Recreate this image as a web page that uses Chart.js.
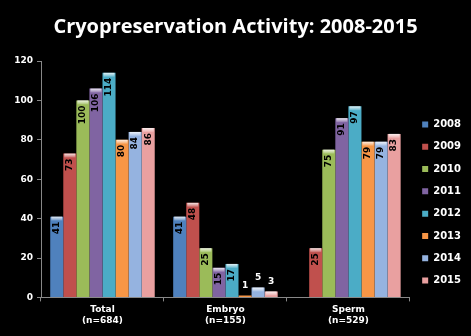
<!DOCTYPE html>
<html>
<head>
<meta charset="utf-8">
<script src="https://cdn.jsdelivr.net/npm/chart.js@4/dist/chart.umd.min.js"></script>
<style>
  html, body { margin: 0; padding: 0; background: #000; }
  #wrap { width: 471px; height: 336px; }
</style>
</head>
<body>
<div id="wrap"><canvas id="cryoChart"></canvas></div>
<script>
// Données
const categories = [["Total", "(n=684)"], ["Embryo", "(n=155)"], ["Sperm", "(n=529)"]];
const years = ["2008", "2009", "2010", "2011", "2012", "2013", "2014", "2015"];
const v2008 = [41, 41, null];
const v2009 = [73, 48, 25];
const v2010 = [100, 25, 75];
const v2011 = [106, 15, 91];
const v2012 = [114, 17, 97];
const v2013 = [80, 1, 79];
const v2014 = [84, 5, 79];
const v2015 = [86, 3, 83];
const yTicks = [0, 20, 40, 60, 80, 100, 120];

const series = [v2008, v2009, v2010, v2011, v2012, v2013, v2014, v2015];
const colors = ["#4f81bd", "#c0504d", "#9bbb59", "#8064a2", "#4bacc6", "#f79646", "#95b3e0", "#e9a0a0"];
const lights = ["#8fb2e0", "#e88886", "#c8e48c", "#ad94cc", "#8ad6ea", "#ffc080", "#c5d8f4", "#f6c6c6"];

// Dégradé horizontal pour l'effet "brillant" des barres
function barGradient(ctx, i) {
  const el = ctx.element;
  if (!el || !ctx.chart.chartArea) return colors[i];
  const props = el.getProps(["x", "width"], true);
  if (!props.width) return colors[i];
  const x0 = props.x - props.width / 2;
  const g = ctx.chart.ctx.createLinearGradient(x0, 0, x0 + props.width, 0);
  g.addColorStop(0, colors[i]);
  g.addColorStop(0.35, lights[i]);
  g.addColorStop(1, colors[i]);
  return g;
}

// Reflet clair en haut de chaque barre + étiquettes de valeurs
const valueLabels = {
  id: "valueLabels",
  afterDatasetsDraw(chart) {
    const ctx = chart.ctx;
    ctx.save();
    chart.data.datasets.forEach((ds, di) => {
      const meta = chart.getDatasetMeta(di);
      meta.data.forEach((bar, idx) => {
        const val = ds.data[idx];
        if (val === null || val === undefined) return;
        const h = bar.base - bar.y;
        if (h > 2) {
          const capH = Math.min(4, h);
          const x0 = bar.x - bar.width / 2;
          const g = ctx.createLinearGradient(0, bar.y, 0, bar.y + capH);
          g.addColorStop(0, "rgba(255,255,255,0.85)");
          g.addColorStop(1, "rgba(255,255,255,0.15)");
          ctx.fillStyle = g;
          ctx.fillRect(x0 + 1, bar.y, bar.width - 2, capH);
        }
        const txt = String(val);
        ctx.font = "bold 9px 'DejaVu Sans', sans-serif";
        if (val >= 10) {
          ctx.save();
          ctx.translate(bar.x, bar.y + 5);
          ctx.rotate(-Math.PI / 2);
          ctx.fillStyle = "#000";
          ctx.textAlign = "right";
          ctx.textBaseline = "middle";
          ctx.fillText(txt, 0, 0);
          ctx.restore();
        } else {
          ctx.fillStyle = "#fff";
          ctx.textAlign = "center";
          ctx.textBaseline = "bottom";
          ctx.fillText(txt, bar.x, bar.y - 5);
        }
      });
    });
    ctx.restore();
  }
};

document.addEventListener("DOMContentLoaded", () => {
  const c = document.getElementById("cryoChart").getContext("2d");
  new Chart(c, {
    type: "bar",
    data: {
      labels: categories,
      datasets: years.map((y, i) => ({
        label: y,
        data: series[i],
        backgroundColor: (ctx) => barGradient(ctx, i),
        borderColor: colors[i],
        borderWidth: 0,
        categoryPercentage: 0.85,
        barPercentage: 1.0,
      })),
    },
    options: {
      responsive: true,
      maintainAspectRatio: false,
      animation: false,
      layout: { padding: { left: 0, right: 0, top: 0, bottom: 7 } },
      plugins: {
        title: {
          display: true,
          text: "Cryopreservation Activity: 2008-2015",
          color: "#fff",
          font: { family: "'Open Sans', sans-serif", size: 20, weight: "bold" },
          padding: { top: 15, bottom: 22 },
        },
        legend: {
          position: "right",
          title: { display: true, text: "", padding: { top: 64, bottom: 0 }, font: { size: 10 } },
          labels: {
            color: "#fff",
            boxWidth: 6,
            boxHeight: 6,
            padding: 12.3,
            font: { family: "'DejaVu Sans', sans-serif", size: 10, weight: "bold" },
            generateLabels: (chart) => years.map((y, i) => ({
              text: y,
              fillStyle: colors[i],
              strokeStyle: colors[i],
              lineWidth: 0,
              fontColor: "#fff",
              datasetIndex: i,
            })),
          },
        },
        tooltip: { enabled: false },
      },
      scales: {
        x: {
          grid: { display: true, drawOnChartArea: false, color: "#888", tickLength: 4 },
          border: { color: "#888", width: 1 },
          ticks: { color: "#fff", font: { family: "'DejaVu Sans', sans-serif", size: 9, weight: "bold" } },
        },
        y: {
          min: yTicks[0],
          max: yTicks[yTicks.length - 1],
          afterBuildTicks: (axis) => { axis.ticks = yTicks.map((v) => ({ value: v })); },
          afterFit: (axis) => { axis.width = 41; },
          grid: { display: true, drawOnChartArea: false, color: "#888", tickLength: 4 },
          border: { color: "#888", width: 1 },
          ticks: { color: "#fff", padding: 4, font: { family: "'DejaVu Sans', sans-serif", size: 9, weight: "bold" } },
        },
      },
    },
    plugins: [valueLabels],
  });
});
</script>
</body>
</html>
